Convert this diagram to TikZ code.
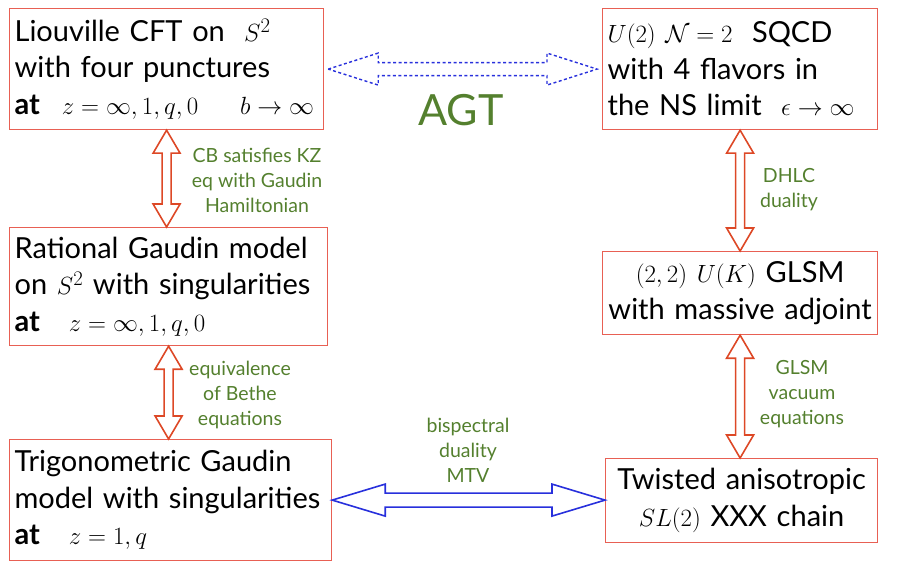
\documentclass[tikz,border=0pt]{standalone}
\usepackage{fontspec}
\setmainfont{Lato}
\usepackage{xcolor}
\definecolor{boxred}{RGB}{232,96,84}
\definecolor{arrred}{RGB}{221,72,38}
\definecolor{agtgreen}{RGB}{84,128,46}
\definecolor{arrblue}{RGB}{40,48,220}
\usetikzlibrary{calc}

\tikzset{
  hollow/.style n args={3}{to path={
    let \p1=($(\tikztostart)!#1!(\tikztotarget)$),
        \p2=($(\tikztotarget)!#1!(\tikztostart)$) in
    (\tikztostart) -- ($(\p1)!#2!90:(\tikztotarget)$) -- ($(\p1)!#3!90:(\tikztotarget)$)
    -- ($(\p2)!#3!-90:(\tikztostart)$) -- ($(\p2)!#2!-90:(\tikztostart)$) -- (\tikztotarget)
    -- ($(\p2)!#2!90:(\tikztostart)$) -- ($(\p2)!#3!90:(\tikztostart)$)
    -- ($(\p1)!#3!-90:(\tikztotarget)$) -- ($(\p1)!#2!-90:(\tikztotarget)$) -- cycle}}
}

\begin{document}
\begin{tikzpicture}[x=1pt,y=-1pt,
  box/.style={draw=boxred,line width=1.2pt,anchor=north west,inner xsep=5pt,inner ysep=2pt,
    align=left,font=\fontsize{29}{36.5}\selectfont},
  lbl/.style={agtgreen,align=center,font=\fontsize{19.5}{25}\selectfont},
  redarr/.style={draw=arrred,line width=1.6pt,line join=miter,hollow={23pt}{13.5pt}{4.5pt}},
  bluearr/.style={draw=arrblue,line width=1.6pt,line join=miter,hollow={53pt}{16pt}{7pt}}]
  \useasboundingbox (0,0) rectangle (899,572);
  % left column
  \node[box,text width=304pt,minimum height=121pt] (lio) at (9,8)
    {Liouville CFT on \ $S^2$\\with four punctures\\\textbf{at}\hspace{22pt}$z=\infty,1,q,0$\hspace{42pt}$b\to\infty$};
  \node[box,text width=308pt,minimum height=118pt] (rat) at (9,227)
    {Rational Gaudin model\\on $S^2$ with singularities\\\textbf{at}\quad $z=\infty,1,q,0$};
  \node[box,text width=312pt,minimum height=121pt] (trig) at (9,439)
    {Trigonometric Gaudin\\model with singularities\\\textbf{at}\quad $z=1,q$};
  % right column
  \node[box,text width=265pt,minimum height=121pt] (sqcd) at (602,8)
    {$U(2)$ $\mathcal{N}=2$\ \ SQCD\\with 4 flavors in\\the NS limit\ \ $\epsilon\to\infty$};
  \node[box,align=center,text width=265pt,minimum height=83pt] (glsm) at (602,251)
    {$(2,2)$ $U(K)$ GLSM\\with massive adjoint};
  \node[box,align=center,text width=262pt,minimum height=84pt] (twist) at (605,458)
    {Twisted anisotropic\\$SL(2)$ XXX chain};
  % dualities
  \draw[redarr] (lio.south) to (lio.south |- rat.north);
  \draw[redarr] (rat.south) to (rat.south |- trig.north);
  \draw[redarr] (sqcd.south) to (sqcd.south |- glsm.north);
  \draw[redarr] (glsm.south) to (glsm.south |- twist.north);
  \draw[bluearr] (trig.east) to (trig.east -| twist.west);
  \draw[bluearr,dash pattern=on 3pt off 2.5pt,line width=1.4pt,hollow={50pt}{16pt}{6.5pt}]
    ([xshift=4pt]lio.east) to ([xshift=-5pt]lio.east -| sqcd.west);
  \node[lbl] (kz) at (257,180) {CB satisfies KZ\\eq with Gaudin\\Hamiltonian};
  \node[lbl] (bethe) at (240,395) {equivalence\\of Bethe\\equations};
  \node[lbl] (dhlc) at (789,190) {DHLC\\duality};
  \node[lbl] (vac) at (802,394) {GLSM\\vacuum\\equations};
  \node[lbl] (mtv) at (468,450) {bispectral\\duality\\MTV};
  \node[agtgreen,font=\fontsize{43}{43}\selectfont] (agt) at (461,110) {AGT};
\end{tikzpicture}
\end{document}
